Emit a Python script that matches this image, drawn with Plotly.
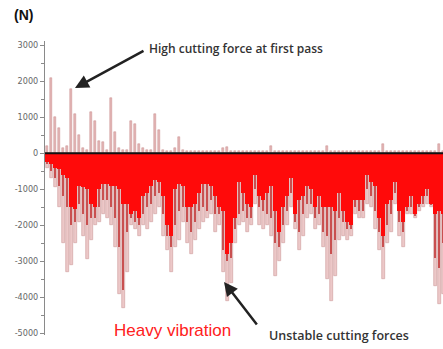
import plotly.graph_objects as go

# ---- data ----
# sample index 0..99 along the record
peak_neg = [-400, -700, -950, -1500, -2500, -3300, -3100, -2500, -1900, -2300,
            -2950, -2400, -2000, -1900, -1700, -1800, -2000, -2600, -3900, -4300,
            -3300, -2000, -2100, -2300, -2000, -2100, -1900, -1700, -1500, -2300,
            -2700, -3300, -2600, -2400, -1900, -2500, -2800, -2400, -2100, -1900,
            -1800, -1700, -2200, -2000, -3300, -4100, -3600, -2500, -2000, -1900,
            -2200, -2000, -1400, -2000, -2100, -2000, -2300, -3400, -3000, -2500,
            -2000, -1500, -2100, -2700, -2300, -1800, -1700, -2100, -2000, -2600,
            -3500, -4100, -3400, -2400, -2300, -2400, -2300, -1700, -1800, -1800,
            -1400, -1500, -2100, -2700, -3500, -2500, -2200, -1400, -2300, -2600,
            -1700, -1700, -1800, -1600, -1500, -1400, -1500, -3700, -4200, -3900]
mid_neg = [-300, -500, -700, -900, -1200, -1500, -2000, -1900, -1400, -1700,
           -2000, -1800, -1800, -1500, -1300, -1300, -1500, -1800, -2600, -3800,
           -2200, -1800, -1900, -2000, -1700, -1500, -1400, -1200, -1100, -1700,
           -2300, -2600, -2000, -1600, -1500, -1900, -2200, -1900, -1600, -1500,
           -1600, -1300, -1700, -1700, -2700, -3000, -2900, -2100, -1700, -1600,
           -1800, -1800, -1000, -1500, -1600, -1700, -1800, -2500, -2600, -2000,
           -1600, -1100, -1900, -2200, -1700, -1400, -1400, -1800, -1700, -2200,
           -2300, -2800, -2400, -1800, -1900, -2100, -2100, -1500, -1600, -1600,
           -1000, -1200, -1600, -2200, -2600, -2000, -1700, -1100, -1900, -2200,
           -1600, -1500, -1750, -1500, -1400, -1200, -1450, -2900, -3200, -2500]
core_neg = [-250, -300, -400, -450, -600, -700, -1500, -1550, -900, -950,
            -1000, -1400, -1500, -1000, -850, -850, -900, -900, -1000, -1400,
            -1400, -1700, -1600, -1800, -1200, -1100, -900, -750, -800, -1200,
            -2000, -2300, -1000, -850, -900, -1500, -1500, -1400, -1100, -850,
            -850, -900, -1200, -1500, -1600, -2800, -2500, -1800, -800, -1100,
            -1400, -1500, -600, -1200, -1300, -1100, -900, -1600, -2200, -1500,
            -1200, -700, -1700, -1300, -1200, -900, -1000, -1500, -1200, -1500,
            -1500, -1500, -1600, -1100, -1600, -1900, -2000, -1300, -1300, -1300,
            -600, -800, -900, -1800, -2300, -1400, -1300, -800, -1600, -1900,
            -1500, -1200, -1700, -1400, -1200, -1000, -1400, -1700, -1600, -1700]
peak_pos = [200, 2100, 1000, 700, 150, 200, 1800, 1100, 500, 150,
            100, 1150, 900, 350, 300, 100, 1550, 600, 150, 100,
            100, 900, 800, 250, 150, 100, 100, 1100, 650, 100,
            50, 50, 150, 450, 100, 60, 60, 60, 60, 60,
            60, 60, 60, 60, 150, 180, 60, 60, 60, 60,
            60, 60, 60, 60, 60, 60, 200, 60, 60, 60,
            60, 60, 60, 60, 60, 60, 60, 60, 60, 60,
            200, 60, 60, 60, 60, 60, 60, 60, 60, 60,
            60, 60, 60, 60, 250, 60, 60, 60, 60, 60,
            60, 60, 60, 60, 60, 60, 60, 60, 250, 60]
samples = list(range(len(peak_neg)))

y_ticks = [3000, 2000, 1000, 0, -1000, -2000, -3000, -4000, -5000]
y_tick_text = ["3000", "2000", "1000", "0", "-1000", "-2000", "-3000", "-4000", "-5000"]

W, H = 443, 349
ML, MR, MT, MB = 45, 0, 41, 14
PW, PH = W - ML - MR, H - MT - MB


def px(x):
    return (x - ML) / PW


def py(y):
    return (H - MB - y) / PH


fig = go.Figure()
fig.add_trace(go.Bar(x=samples, y=peak_pos, width=0.45,
                     marker=dict(color="#e3b5b5", line=dict(color="#c98c8c", width=0.5))))
fig.add_trace(go.Bar(x=samples, y=peak_neg, width=0.75,
                     marker=dict(color="#ecc8c8", line=dict(color="#cf9a9a", width=0.6))))
fig.add_trace(go.Bar(x=samples, y=mid_neg, width=0.45,
                     marker=dict(color="#c95050", line=dict(width=0))))
fig.add_trace(go.Bar(x=samples, y=core_neg, width=0.92,
                     marker=dict(color="#ff0a0a", line=dict(width=0))))

fig.add_shape(type="line", xref="x", yref="y", x0=-0.5, x1=99, y0=0, y1=0,
              line=dict(color="#111111", width=2), layer="above")

anns = [
    dict(x=px(12), y=py(15), text="<b>(N)</b>", xanchor="left", yanchor="middle",
         font=dict(size=14, color="#111111", family="Liberation Sans, Arial")),
    dict(x=px(147), y=py(48), text="High cutting force at first pass", xanchor="left",
         yanchor="middle", font=dict(size=12, color="#333333", family="Open Sans", weight=600)),
    dict(x=px(267), y=py(335), text="Unstable cutting forces", xanchor="left",
         yanchor="middle", font=dict(size=12.5, color="#333333", family="Open Sans", weight=600)),
    dict(x=px(112), y=py(330), text="Heavy vibration", xanchor="left",
         yanchor="middle", font=dict(size=17, color="#ff2020", family="Liberation Sans, Arial")),
]
for a in anns:
    fig.add_annotation(xref="paper", yref="paper", showarrow=False, **a)

# arrows
fig.add_annotation(xref="paper", yref="paper", x=px(75), y=py(88), text="",
                   showarrow=True, ax=70, ay=-38, arrowhead=2, arrowsize=1.1,
                   arrowwidth=2.5, arrowcolor="#222222")
fig.add_annotation(xref="paper", yref="paper", x=px(224), y=py(282), text="",
                   showarrow=True, ax=34, ay=44, arrowhead=2, arrowsize=1.1,
                   arrowwidth=2.5, arrowcolor="#222222")

fig.update_layout(
    width=W, height=H, margin=dict(l=ML, r=MR, t=MT, b=MB, pad=0, autoexpand=False),
    paper_bgcolor="white", plot_bgcolor="white", showlegend=False,
    barmode="overlay", bargap=0, hovermode=False,
    xaxis=dict(range=[-0.5, 99], visible=False),
    yaxis=dict(range=[-5050, 3120], tickvals=y_ticks, ticktext=y_tick_text,
               automargin=False,
               showgrid=False, zeroline=False, showline=True, linecolor="#8a8a8a",
               linewidth=1, ticks="outside", ticklen=4, tickcolor="#8a8a8a",
               tickfont=dict(size=9, color="#666666", family="Liberation Sans Narrow, Arial Narrow, DejaVu Sans Condensed"),
               minor=dict(dtick=500, ticks="outside", ticklen=3, tickcolor="#8a8a8a")),
)
fig.write_html("out.html", config={"displayModeBar": False},
               post_script="document.body.style.margin='0';document.body.style.overflow='hidden';")
